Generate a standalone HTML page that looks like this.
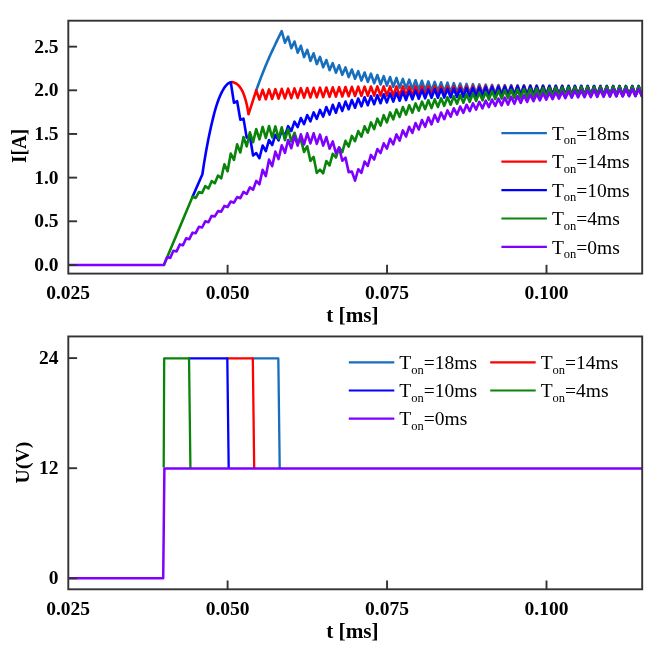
<!DOCTYPE html>
<html lang="en"><head><meta charset="utf-8"><title>Current and voltage vs time</title>
<style>html,body{margin:0;padding:0;background:#fff}svg{display:block;filter:blur(0.4px)}</style></head>
<body>
<svg width="667" height="651" viewBox="0 0 667 651">
<rect width="667" height="651" fill="#fff"/>
<defs><clipPath id="cp1"><rect x="68.3" y="20.7" width="573.9000000000001" height="252.90000000000003"/></clipPath><clipPath id="cp2"><rect x="68.3" y="336.45" width="573.9000000000001" height="252.84999999999997"/></clipPath></defs>
<g clip-path="url(#cp1)" fill="none" stroke-width="2.6" stroke-linejoin="round" stroke-linecap="butt">
<path stroke="#176ebd" d="M256.06,90.93 L256.23,90.40 L257.03,88.16 L257.83,85.95 L258.63,83.76 L259.43,81.61 L260.23,79.48 L261.03,77.38 L261.83,75.30 L262.63,73.26 L263.43,71.24 L264.23,69.25 L265.03,67.29 L265.83,65.35 L266.63,63.43 L267.43,61.55 L268.23,59.69 L269.03,57.87 L269.83,56.07 L270.63,54.31 L271.43,52.57 L272.23,50.85 L273.03,49.14 L273.83,47.44 L274.63,45.74 L275.43,44.04 L276.23,42.36 L277.03,40.68 L277.83,39.02 L278.63,37.36 L279.43,35.71 L280.23,34.08 L281.03,32.45 L281.70,31.10 L284.94,42.70 L288.12,36.62 L291.31,48.26 L294.50,41.50 L297.68,52.65 L300.87,45.78 L304.06,57.10 L307.24,49.92 L310.43,60.91 L313.62,53.31 L316.80,64.10 L319.99,56.89 L323.18,67.34 L326.36,59.98 L329.55,70.14 L332.73,63.11 L335.92,72.67 L339.11,65.30 L342.29,74.86 L345.48,67.39 L348.67,77.06 L351.85,69.49 L355.04,78.76 L358.23,71.18 L361.41,80.55 L364.60,72.48 L367.79,81.95 L370.97,73.68 L374.16,83.25 L377.35,74.99 L380.53,84.45 L383.72,76.14 L386.90,85.67 L390.09,77.05 L393.28,86.79 L396.46,77.94 L399.65,87.76 L402.84,78.92 L406.02,88.51 L409.21,79.60 L412.40,89.19 L415.58,80.22 L418.77,89.79 L421.96,80.81 L425.14,90.32 L428.33,81.41 L431.52,90.81 L434.70,81.91 L437.89,91.27 L441.08,82.32 L444.26,91.70 L447.45,82.71 L450.63,92.10 L453.82,83.11 L457.01,92.47 L460.19,83.51 L463.38,92.80 L466.57,83.86 L469.75,93.09 L472.94,84.18 L476.13,93.32 L479.31,84.46 L482.50,93.53 L485.69,84.70 L488.87,93.71 L492.06,84.88 L495.25,93.86 L498.43,85.01 L501.62,93.98 L504.81,85.10 L507.99,94.08 L511.18,85.17 L514.37,94.18 L517.55,85.22 L520.74,94.26 L523.92,85.27 L527.11,94.34 L530.30,85.30 L533.48,94.44 L536.67,85.37 L539.86,94.54 L543.04,85.43 L546.23,94.63 L549.42,85.48 L552.60,94.71 L555.79,85.53 L558.98,94.79 L562.16,85.58 L565.35,94.86 L568.54,85.62 L571.72,94.93 L574.91,85.66 L578.10,94.98 L581.28,85.70 L584.47,95.04 L587.65,85.74 L590.84,95.09 L594.03,85.77 L597.21,95.14 L600.40,85.80 L603.59,95.18 L606.77,85.83 L609.96,95.23 L613.15,85.86 L616.33,95.27 L619.52,85.89 L622.71,95.30 L625.89,85.92 L629.08,95.34 L632.27,85.94 L635.45,95.36 L638.64,85.96 L641.83,95.38 L645.01,85.99"/>
<path stroke="#ff0000" d="M230.57,82.26 L230.76,82.20 L231.56,82.11 L232.36,82.11 L233.16,82.24 L233.96,82.50 L234.76,82.84 L235.56,83.23 L236.36,83.66 L237.16,84.23 L237.96,84.93 L238.76,85.74 L239.56,86.63 L240.36,87.70 L241.16,88.95 L241.96,90.35 L242.76,91.95 L243.56,93.86 L244.36,96.06 L245.16,98.51 L245.96,101.31 L246.76,104.58 L247.56,108.47 L248.36,113.37 L248.50,114.30 L256.23,90.40 L256.26,90.32 L259.44,99.60 L262.63,89.80 L265.82,99.28 L269.00,89.43 L272.19,98.97 L275.38,89.12 L278.56,98.69 L281.75,88.86 L284.94,98.41 L288.12,88.64 L291.31,98.15 L294.50,88.42 L297.68,97.91 L300.87,88.21 L304.06,97.69 L307.24,88.01 L310.43,97.49 L313.62,87.83 L316.80,97.30 L319.99,87.66 L323.18,97.11 L326.36,87.49 L329.55,96.91 L332.73,87.33 L335.92,96.70 L339.11,87.16 L342.29,96.46 L345.48,87.00 L348.67,96.23 L351.85,86.85 L355.04,96.02 L358.23,86.71 L361.41,95.86 L364.60,86.61 L367.79,95.76 L370.97,86.52 L374.16,95.68 L377.35,86.44 L380.53,95.62 L383.72,86.41 L386.90,95.63 L390.09,86.42 L393.28,95.66 L396.46,86.44 L399.65,95.69 L402.84,86.46 L406.02,95.73 L409.21,86.50 L412.40,95.74 L415.58,86.46 L418.77,95.72 L421.96,86.43 L425.14,95.70 L428.33,86.40 L431.52,95.70 L434.70,86.39 L437.89,95.70 L441.08,86.37 L444.26,95.70 L447.45,86.36 L450.63,95.70 L453.82,86.35 L457.01,95.70 L460.19,86.34 L463.38,95.70 L466.57,86.33 L469.75,95.70 L472.94,86.30 L476.13,95.66 L479.31,86.25 L482.50,95.62 L485.69,86.20 L488.87,95.57 L492.06,86.15 L495.25,95.53 L498.43,86.11 L501.62,95.49 L504.81,86.07 L507.99,95.45 L511.18,86.06 L514.37,95.40 L517.55,86.05 L520.74,95.36 L523.92,86.06 L527.11,95.32 L530.30,86.08 L533.48,95.30 L536.67,86.14 L539.86,95.30 L543.04,86.19 L546.23,95.30 L549.42,86.24 L552.60,95.30 L555.79,86.28 L558.98,95.30 L562.16,86.31 L565.35,95.30 L568.54,86.33 L571.72,95.30 L574.91,86.35 L578.10,95.30 L581.28,86.37 L584.47,95.30 L587.65,86.39 L590.84,95.30 L594.03,86.41 L597.21,95.30 L600.40,86.43 L603.59,95.30 L606.77,86.44 L609.96,95.30 L613.15,86.46 L616.33,95.30 L619.52,86.47 L622.71,95.30 L625.89,86.48 L629.08,95.30 L632.27,86.49 L635.45,95.30 L638.64,86.50 L641.83,95.30 L645.01,86.50"/>
<path stroke="#0000ff" d="M192.33,197.33 L192.55,196.80 L202.40,174.20 L203.20,168.78 L204.00,163.59 L204.80,158.70 L205.60,154.03 L206.40,149.53 L207.20,145.19 L208.00,141.02 L208.80,137.02 L209.60,133.15 L210.40,129.43 L211.20,125.85 L212.00,122.43 L212.80,119.14 L213.60,115.91 L214.40,112.80 L215.20,109.85 L216.00,107.10 L216.80,104.58 L217.60,102.22 L218.40,99.99 L219.20,97.90 L220.00,95.97 L220.80,94.20 L221.60,92.56 L222.40,91.01 L223.20,89.57 L224.00,88.26 L224.80,87.10 L225.60,86.07 L226.40,85.13 L227.20,84.29 L228.00,83.61 L228.80,83.08 L229.60,82.64 L230.40,82.31 L230.76,82.20 L230.77,82.20 L233.95,102.80 L237.14,101.23 L240.33,119.80 L243.51,118.63 L246.70,137.60 L249.89,136.26 L253.07,155.48 L256.26,153.10 L259.44,158.20 L262.63,145.47 L265.82,151.18 L269.00,140.08 L272.19,145.01 L275.38,134.89 L278.56,140.40 L281.75,130.67 L284.94,135.92 L288.12,126.20 L291.31,130.99 L294.50,121.64 L297.68,127.16 L300.87,117.98 L304.06,124.16 L307.24,115.03 L310.43,121.32 L313.62,112.42 L316.80,118.84 L319.99,109.86 L323.18,116.59 L326.36,107.00 L329.55,114.55 L332.73,104.84 L335.92,112.73 L339.11,103.18 L342.29,110.93 L345.48,101.60 L348.67,109.23 L351.85,99.99 L355.04,107.74 L358.23,98.49 L361.41,106.34 L364.60,97.28 L367.79,105.24 L370.97,96.17 L374.16,104.24 L377.35,95.15 L380.53,103.24 L383.72,94.24 L386.90,102.43 L390.09,93.41 L393.28,101.59 L396.46,92.69 L399.65,100.78 L402.84,91.79 L406.02,100.09 L409.21,90.98 L412.40,99.39 L415.58,90.37 L418.77,98.69 L421.96,89.76 L425.14,98.29 L428.33,89.36 L431.52,97.90 L434.70,89.25 L437.89,97.74 L441.08,89.06 L444.26,97.59 L447.45,88.83 L450.63,97.31 L453.82,88.63 L457.01,97.00 L460.19,88.41 L463.38,96.71 L466.57,88.16 L469.75,96.50 L472.94,87.87 L476.13,96.35 L479.31,87.59 L482.50,96.21 L485.69,87.34 L488.87,96.10 L492.06,87.10 L495.25,96.00 L498.43,86.91 L501.62,95.93 L504.81,86.78 L507.99,95.87 L511.18,86.65 L514.37,95.81 L517.55,86.53 L520.74,95.75 L523.92,86.42 L527.11,95.69 L530.30,86.33 L533.48,95.66 L536.67,86.31 L539.86,95.65 L543.04,86.29 L546.23,95.64 L549.42,86.28 L552.60,95.64 L555.79,86.27 L558.98,95.63 L562.16,86.26 L565.35,95.63 L568.54,86.25 L571.72,95.62 L574.91,86.25 L578.10,95.62 L581.28,86.24 L584.47,95.62 L587.65,86.23 L590.84,95.61 L594.03,86.23 L597.21,95.61 L600.40,86.22 L603.59,95.61 L606.77,86.22 L609.96,95.61 L613.15,86.21 L616.33,95.60 L619.52,86.21 L622.71,95.60 L625.89,86.20 L629.08,95.60 L632.27,86.20 L635.45,95.60 L638.64,86.20 L641.83,95.60 L645.01,86.20"/>
<path stroke="#0a840a" d="M163.60,265.00 L163.90,265.00 L192.53,196.85 L195.72,197.89 L198.90,192.08 L202.09,192.91 L205.27,186.12 L208.46,188.43 L211.65,181.16 L214.83,183.27 L218.02,175.58 L221.21,178.39 L224.39,164.21 L227.58,171.33 L230.77,153.45 L233.95,159.92 L237.14,144.38 L240.33,152.47 L243.51,136.99 L246.70,146.38 L249.89,132.31 L253.07,142.17 L256.26,129.18 L259.44,139.34 L262.63,126.89 L265.82,138.00 L269.00,126.10 L272.19,137.50 L275.38,126.39 L278.56,138.67 L281.75,127.25 L284.94,140.17 L288.12,129.00 L291.31,141.34 L294.50,132.77 L297.68,142.63 L300.87,139.57 L304.06,151.88 L307.24,146.25 L310.43,160.85 L313.62,156.92 L316.80,172.91 L319.99,169.60 L323.18,173.30 L326.36,160.98 L329.55,165.37 L332.73,153.76 L335.92,157.50 L339.11,147.35 L342.29,152.22 L345.48,140.83 L348.67,146.71 L351.85,135.89 L355.04,141.23 L358.23,131.02 L361.41,136.73 L364.60,126.35 L367.79,132.72 L370.97,122.38 L374.16,129.15 L377.35,118.64 L380.53,125.53 L383.72,115.17 L386.90,122.45 L390.09,112.39 L393.28,119.37 L396.46,109.47 L399.65,116.94 L402.84,107.10 L406.02,114.56 L409.21,105.22 L412.40,112.67 L415.58,103.40 L418.77,110.75 L421.96,101.62 L425.14,109.17 L428.33,100.24 L431.52,108.08 L434.70,99.34 L437.89,106.97 L441.08,98.35 L444.26,105.87 L447.45,97.26 L450.63,104.68 L453.82,96.27 L457.01,103.68 L460.19,95.18 L463.38,102.69 L466.57,94.29 L469.75,101.89 L472.94,93.38 L476.13,101.00 L479.31,92.58 L482.50,100.30 L485.69,91.92 L488.87,99.59 L492.06,91.16 L495.25,99.10 L498.43,90.61 L501.62,98.60 L504.81,90.16 L507.99,98.20 L511.18,89.75 L514.37,97.95 L517.55,89.37 L520.74,97.75 L523.92,89.01 L527.11,97.58 L530.30,88.69 L533.48,97.38 L536.67,88.37 L539.86,97.14 L543.04,88.07 L546.23,96.91 L549.42,87.79 L552.60,96.68 L555.79,87.54 L558.98,96.47 L562.16,87.36 L565.35,96.36 L568.54,87.23 L571.72,96.28 L574.91,87.12 L578.10,96.21 L581.28,87.02 L584.47,96.17 L587.65,86.93 L590.84,96.13 L594.03,86.86 L597.21,96.09 L600.40,86.80 L603.59,96.05 L606.77,86.74 L609.96,96.01 L613.15,86.69 L616.33,95.98 L619.52,86.64 L622.71,95.96 L625.89,86.60 L629.08,95.93 L632.27,86.56 L635.45,95.92 L638.64,86.53 L641.83,95.91 L645.01,86.51"/>
<path stroke="#8000ff" d="M65.30,265.00 L163.90,265.00 L167.04,257.30 L170.22,257.85 L173.41,250.79 L176.60,251.40 L179.78,244.42 L182.97,245.33 L186.16,238.37 L189.34,239.16 L192.53,232.68 L195.72,233.19 L198.90,226.81 L202.09,227.51 L205.27,221.32 L208.46,222.23 L211.65,215.92 L214.83,216.37 L218.02,211.14 L221.21,211.69 L224.39,205.93 L227.58,207.01 L230.77,201.52 L233.95,202.66 L237.14,197.05 L240.33,198.18 L243.51,191.84 L246.70,193.97 L249.89,187.35 L253.07,189.70 L256.26,180.93 L259.44,184.26 L262.63,169.85 L265.82,176.07 L269.00,159.63 L272.19,166.21 L275.38,151.64 L278.56,159.04 L281.75,145.22 L284.94,152.83 L288.12,140.00 L291.31,148.25 L294.50,135.96 L297.68,145.58 L300.87,134.29 L304.06,144.39 L307.24,133.30 L310.43,143.40 L313.62,133.30 L316.80,143.81 L319.99,134.62 L323.18,145.63 L326.36,137.03 L329.55,148.73 L332.73,141.41 L335.92,153.11 L339.11,147.63 L342.29,160.74 L345.48,157.65 L348.67,172.10 L351.85,171.50 L355.04,180.69 L358.23,169.23 L361.41,172.87 L364.60,161.49 L367.79,165.91 L370.97,154.93 L374.16,159.44 L377.35,149.08 L380.53,153.05 L383.72,143.32 L386.90,148.69 L390.09,138.75 L393.28,144.42 L396.46,134.39 L399.65,140.60 L402.84,130.42 L406.02,136.52 L409.21,126.74 L412.40,132.85 L415.58,123.00 L418.77,129.53 L421.96,119.98 L425.14,126.79 L428.33,117.36 L431.52,124.34 L434.70,114.79 L437.89,121.74 L441.08,112.47 L444.26,119.19 L447.45,110.44 L450.63,116.74 L453.82,108.31 L457.01,114.69 L460.19,106.58 L463.38,112.84 L466.57,104.75 L469.75,111.18 L472.94,103.25 L476.13,109.59 L479.31,101.86 L482.50,108.30 L485.69,100.64 L488.87,107.09 L492.06,99.52 L495.25,105.99 L498.43,98.59 L501.62,105.40 L504.81,97.60 L507.99,104.64 L511.18,96.76 L514.37,103.79 L517.55,95.99 L520.74,102.88 L523.92,95.29 L527.11,101.99 L530.30,94.57 L533.48,101.18 L536.67,93.89 L539.86,100.43 L543.04,93.26 L546.23,99.75 L549.42,92.67 L552.60,99.15 L555.79,92.14 L558.98,98.62 L562.16,91.63 L565.35,98.16 L568.54,91.18 L571.72,97.76 L574.91,90.80 L578.10,97.45 L581.28,90.48 L584.47,97.25 L587.65,90.20 L590.84,97.08 L594.03,89.97 L597.21,96.93 L600.40,89.79 L603.59,96.78 L606.77,89.65 L609.96,96.62 L613.15,89.51 L616.33,96.46 L619.52,89.40 L622.71,96.34 L625.89,89.30 L629.08,96.26 L632.27,89.23 L635.45,96.21 L638.64,89.20 L641.83,96.20 L645.01,89.20"/>
</g>
<g clip-path="url(#cp2)" fill="none" stroke-width="2.3" stroke-linejoin="round" stroke-linecap="butt">
<path stroke="#176ebd" d="M252.11,358.40 L278.32,358.40 L279.72,468.40"/>
<path stroke="#ff0000" d="M226.60,358.40 L252.81,358.40 L254.21,468.40"/>
<path stroke="#0000ff" d="M188.33,358.40 L227.30,358.40 L228.70,468.40"/>
<path stroke="#0a840a" d="M163.70,467.40 L164.20,358.40 L189.03,358.40 L190.43,468.40"/>
<path stroke="#8000ff" stroke-width="2.5" d="M65.30,578.30 L163.20,578.30 L164.40,468.40 L645.20,468.40"/>
</g>
<g stroke="#333333" stroke-width="1.9" fill="none">
<rect x="68.3" y="20.7" width="573.90" height="252.90"/>
<line x1="227.60" y1="273.6" x2="227.60" y2="264.8"/>
<line x1="387.05" y1="273.6" x2="387.05" y2="264.8"/>
<line x1="546.50" y1="273.6" x2="546.50" y2="264.8"/>
<line x1="68.3" y1="264.95" x2="77.1" y2="264.95"/>
<line x1="68.3" y1="221.29" x2="77.1" y2="221.29"/>
<line x1="68.3" y1="177.63" x2="77.1" y2="177.63"/>
<line x1="68.3" y1="133.97" x2="77.1" y2="133.97"/>
<line x1="68.3" y1="90.31" x2="77.1" y2="90.31"/>
<line x1="68.3" y1="46.65" x2="77.1" y2="46.65"/>
</g>
<g stroke="#333333" stroke-width="1.9" fill="none">
<rect x="68.3" y="336.45" width="573.90" height="252.85"/>
<line x1="227.60" y1="589.3" x2="227.60" y2="580.5"/>
<line x1="387.05" y1="589.3" x2="387.05" y2="580.5"/>
<line x1="546.50" y1="589.3" x2="546.50" y2="580.5"/>
<line x1="68.3" y1="578.30" x2="77.1" y2="578.30"/>
<line x1="68.3" y1="468.20" x2="77.1" y2="468.20"/>
<line x1="68.3" y1="358.10" x2="77.1" y2="358.10"/>
</g>
<g font-family="'Liberation Serif', 'Times New Roman', serif" font-weight="bold" font-size="19.5px" fill="#000">
<text x="58.6" y="270.95" text-anchor="end">0.0</text>
<text x="58.6" y="227.29" text-anchor="end">0.5</text>
<text x="58.6" y="183.63" text-anchor="end">1.0</text>
<text x="58.6" y="139.97" text-anchor="end">1.5</text>
<text x="58.6" y="96.31" text-anchor="end">2.0</text>
<text x="58.6" y="52.65" text-anchor="end">2.5</text>
<text x="58.6" y="584.30" text-anchor="end">0</text>
<text x="58.6" y="474.20" text-anchor="end">12</text>
<text x="58.6" y="364.10" text-anchor="end">24</text>
<text x="68.15" y="298.90" text-anchor="middle">0.025</text>
<text x="227.60" y="298.90" text-anchor="middle">0.050</text>
<text x="387.05" y="298.90" text-anchor="middle">0.075</text>
<text x="546.50" y="298.90" text-anchor="middle">0.100</text>
<text x="352.4" y="322.00" text-anchor="middle" font-size="21.2px">t [ms]</text>
<text x="68.15" y="614.60" text-anchor="middle">0.025</text>
<text x="227.60" y="614.60" text-anchor="middle">0.050</text>
<text x="387.05" y="614.60" text-anchor="middle">0.075</text>
<text x="546.50" y="614.60" text-anchor="middle">0.100</text>
<text x="352.4" y="637.70" text-anchor="middle" font-size="21.2px">t [ms]</text>
<text transform="translate(26.2,145.9) rotate(-90) scale(0.94,1)" text-anchor="middle" font-size="20.4px">I[A]</text>
<text transform="translate(28.9,462.5) rotate(-90)" text-anchor="middle" font-size="19.8px">U(V)</text>
</g>
<g font-family="'Liberation Serif', 'Times New Roman', serif" font-size="19.5px" fill="#000">
<line x1="501.4" y1="133.2" x2="546.9" y2="133.2" stroke="#176ebd" stroke-width="2.2"/><text x="551.9" y="139.80">T<tspan font-size="12.5px" dy="4.6">on</tspan><tspan dy="-4.6">=18ms</tspan></text>
<line x1="501.4" y1="161.64" x2="546.9" y2="161.64" stroke="#ff0000" stroke-width="2.2"/><text x="551.9" y="168.24">T<tspan font-size="12.5px" dy="4.6">on</tspan><tspan dy="-4.6">=14ms</tspan></text>
<line x1="501.4" y1="190.07999999999998" x2="546.9" y2="190.07999999999998" stroke="#0000ff" stroke-width="2.2"/><text x="551.9" y="196.68">T<tspan font-size="12.5px" dy="4.6">on</tspan><tspan dy="-4.6">=10ms</tspan></text>
<line x1="501.4" y1="218.51999999999998" x2="546.9" y2="218.51999999999998" stroke="#0a840a" stroke-width="2.2"/><text x="551.9" y="225.12">T<tspan font-size="12.5px" dy="4.6">on</tspan><tspan dy="-4.6">=4ms</tspan></text>
<line x1="501.4" y1="246.95999999999998" x2="546.9" y2="246.95999999999998" stroke="#8000ff" stroke-width="2.2"/><text x="551.9" y="253.56">T<tspan font-size="12.5px" dy="4.6">on</tspan><tspan dy="-4.6">=0ms</tspan></text>
<line x1="348.8" y1="362.3" x2="394.3" y2="362.3" stroke="#176ebd" stroke-width="2.2"/><text x="399.3" y="368.90">T<tspan font-size="12.5px" dy="4.6">on</tspan><tspan dy="-4.6">=18ms</tspan></text>
<line x1="490.2" y1="362.3" x2="535.7" y2="362.3" stroke="#ff0000" stroke-width="2.2"/><text x="540.7" y="368.90">T<tspan font-size="12.5px" dy="4.6">on</tspan><tspan dy="-4.6">=14ms</tspan></text>
<line x1="348.8" y1="390.5" x2="394.3" y2="390.5" stroke="#0000ff" stroke-width="2.2"/><text x="399.3" y="397.10">T<tspan font-size="12.5px" dy="4.6">on</tspan><tspan dy="-4.6">=10ms</tspan></text>
<line x1="490.2" y1="390.5" x2="535.7" y2="390.5" stroke="#0a840a" stroke-width="2.2"/><text x="540.7" y="397.10">T<tspan font-size="12.5px" dy="4.6">on</tspan><tspan dy="-4.6">=4ms</tspan></text>
<line x1="348.8" y1="418.7" x2="394.3" y2="418.7" stroke="#8000ff" stroke-width="2.2"/><text x="399.3" y="425.30">T<tspan font-size="12.5px" dy="4.6">on</tspan><tspan dy="-4.6">=0ms</tspan></text>
</g>
</svg>
</body></html>
